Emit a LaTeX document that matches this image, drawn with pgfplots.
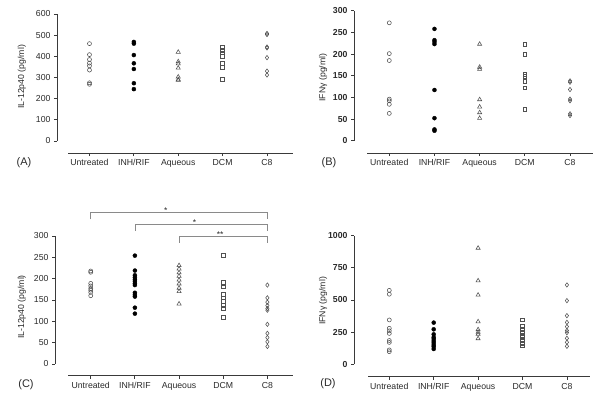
\documentclass[border=0pt]{standalone}
\usepackage{pgfplots}
\pgfplotsset{compat=1.18}
\usepackage{fontspec}
\setmainfont{Liberation Sans}
\definecolor{ax}{HTML}{3A3A3A}
\definecolor{mk}{HTML}{505050}
\definecolor{br}{HTML}{8A8A8A}
\definecolor{tx}{HTML}{2A2A2A}
\pgfplotsset{
  prism/.style={
    scale only axis,
    anchor=south west,
    separate axis lines,
    axis line style={draw=none},
    clip=false,
    xtick={0,1,2,3,4},
    xticklabels={Untreated,INH/RIF,Aqueous,DCM,C8},
    tick align=outside,
    xtick pos=left, ytick pos=left,
    major tick length=3pt,
    minor tick num=0,
    tick style={ax, line width=0.8pt},
    ticklabel style={font=\fontsize{8.7}{10}\selectfont, text=tx},
    /pgf/number format/assume math mode=true,
    /pgf/number format/1000 sep={},
    every axis plot/.append style={only marks, mark options={line width=0.55pt}},
  },
  untr/.style={mark=o, mk, mark size=2pt},
  inh/.style={mark=*, black, mark size=2pt, mark options={fill=black}},
  aq/.style={mark=triangle, mk, mark size=2.4pt},
  dcm/.style={mark=square, mk, mark size=1.85pt},
  ceight/.style={mark=diamond, mk, mark size=2.2pt},
}
\begin{document}
\begin{tikzpicture}
\useasboundingbox (0pt,0pt) rectangle (600pt,400pt);
% ---------------- Panel A ----------------
\begin{axis}[prism, at={(57pt,247pt)}, width=236pt, height=139pt,
  xmin=-0.732, xmax=4.586, ymin=-56.7, ymax=600,
  ytick={0,100,...,600}]
\draw[ax, line width=0.8pt] (axis cs:-0.732,0) -- (axis cs:-0.732,600);
\draw[ax, line width=0.8pt] (axis cs:-0.484,-56.7) -- (axis cs:4.586,-56.7);
\addplot[untr] coordinates {(0,460) (0,408) (0,385) (0,368) (0,355) (0,335) (0,275) (0,268)};
\addplot[inh] coordinates {(1,468) (1,460) (1,406) (1,367) (1,340) (1,273) (1,245)};
\addplot[aq] coordinates {(2,420) (2,375) (2,365) (2,345) (2,303) (2,290) (2,287)};
\addplot[dcm] coordinates {(3,442) (3,428) (3,417) (3,400) (3,366) (3,347) (3,291)};
\addplot[ceight] coordinates {(4,508) (4,503) (4,444) (4,440) (4,394) (4,330) (4,312)};
\end{axis}
% ---------------- Panel B ----------------
\begin{axis}[prism, at={(354pt,247pt)}, width=239pt, height=142.3pt,
  xmin=-0.781, xmax=4.509, ymin=-28.4, ymax=300,
  ytick={0,50,...,300},
  yticklabel style={font=\bfseries\fontsize{8.7}{10}\selectfont}]
\draw[ax, line width=0.8pt] (axis cs:-0.781,0) -- (axis cs:-0.781,300);
\draw[ax, line width=0.8pt] (axis cs:-0.49,-28.4) -- (axis cs:4.509,-28.4);
\addplot[untr] coordinates {(0,272) (0,201) (0,185) (0,96) (0,92) (0,84) (0,63)};
\addplot[inh] coordinates {(1,258) (1,232) (1,228) (1,223) (1,117) (1,52) (1,26) (1,23)};
\addplot[aq] coordinates {(2,223) (2,170) (2,165) (2,95) (2,78) (2,65) (2,52)};
\addplot[dcm] coordinates {(3,223) (3,199) (3,153) (3,148) (3,137) (3,122) (3,73)};
\addplot[ceight] coordinates {(4,138) (4,135) (4,118) (4,96) (4,92) (4,62) (4,58)};
\end{axis}
% ---------------- Panel C ----------------
\begin{axis}[prism, at={(55pt,24.5pt)}, width=238pt, height=139.5pt,
  xmin=-0.809, xmax=4.58, ymin=-27, ymax=300,
  ytick={0,50,...,300}]
\draw[ax, line width=0.8pt] (axis cs:-0.809,0) -- (axis cs:-0.809,300);
\draw[ax, line width=0.8pt] (axis cs:-0.51,-27) -- (axis cs:4.58,-27);
\draw[br, line width=0.6pt] (axis cs:0,339) -- (axis cs:0,354.6) -- (axis cs:4,354.6) -- (axis cs:4,339);
\draw[br, line width=0.6pt] (axis cs:1,312) -- (axis cs:1,327) -- (axis cs:4,327) -- (axis cs:4,312);
\draw[br, line width=0.6pt] (axis cs:2,284) -- (axis cs:2,300) -- (axis cs:4,300) -- (axis cs:4,284);
\node[anchor=south, inner sep=0.5pt, font=\fontsize{8.5}{9}\selectfont, text=tx] at (axis cs:1.7,351) {*};
\node[anchor=south, inner sep=0.5pt, font=\fontsize{8.5}{9}\selectfont, text=tx] at (axis cs:2.35,323) {*};
\node[anchor=south, inner sep=0.5pt, font=\fontsize{8.5}{9}\selectfont, text=tx] at (axis cs:2.93,296) {**};
\addplot[untr] coordinates {(0,218) (0,215) (0,189) (0,183) (0,177) (0,173) (0,168) (0,160)};
\addplot[inh] coordinates {(1,254) (1,219) (1,208) (1,203) (1,198) (1,194) (1,189) (1,185) (1,167) (1,162) (1,158) (1,132) (1,118)};
\addplot[aq] coordinates {(2,231) (2,223) (2,214) (2,206) (2,197) (2,188) (2,178) (2,170) (2,141)};
\addplot[dcm] coordinates {(3,255) (3,191) (3,181) (3,163) (3,155) (3,147) (3,138) (3,131) (3,109)};
\addplot[ceight] coordinates {(4,185) (4,155) (4,145) (4,137) (4,130) (4,126) (4,93) (4,72) (4,62) (4,52) (4,41)};
\end{axis}
% ---------------- Panel D ----------------
\begin{axis}[prism, at={(354pt,23.5pt)}, width=236pt, height=140.8pt,
  xmin=-0.795, xmax=4.52, ymin=-95, ymax=1000,
  ytick={0,250,500,750,1000},
  yticklabel style={font=\bfseries\fontsize{8.7}{10}\selectfont}]
\draw[ax, line width=0.8pt] (axis cs:-0.795,0) -- (axis cs:-0.795,1000);
\draw[ax, line width=0.8pt] (axis cs:-0.47,-95) -- (axis cs:4.52,-95);
\addplot[untr] coordinates {(0,575) (0,545) (0,345) (0,280) (0,260) (0,240) (0,185) (0,170) (0,112) (0,98)};
\addplot[inh] coordinates {(1,324) (1,272) (1,233) (1,210) (1,197) (1,181) (1,166) (1,150) (1,137) (1,119)};
\addplot[aq] coordinates {(2,904) (2,650) (2,539) (2,332) (2,270) (2,250) (2,235) (2,200)};
\addplot[dcm] coordinates {(3,347) (3,298) (3,272) (3,249) (3,228) (3,212) (3,187) (3,163) (3,145)};
\addplot[ceight] coordinates {(4,617) (4,495) (4,378) (4,326) (4,293) (4,262) (4,246) (4,202) (4,171) (4,140)};
\end{axis}
% ---------------- labels ----------------
\node[rotate=90, font=\fontsize{8.7}{10}\selectfont, text=tx] at (22pt,323pt) {IL-12p40 (pg/ml)};
\node[rotate=90, font=\fontsize{8.7}{10}\selectfont, text=tx] at (323pt,322.5pt) {IFNγ (pg/ml)};
\node[rotate=90, font=\fontsize{8.7}{10}\selectfont, text=tx] at (22pt,93pt) {IL-12p40 (pg/ml)};
\node[rotate=90, font=\fontsize{8.7}{10}\selectfont, text=tx] at (323pt,99pt) {IFNγ (pg/ml)};
\node[font=\fontsize{11}{12}\selectfont, text=tx] at (24pt,237pt) {(A)};
\node[font=\fontsize{11}{12}\selectfont, text=tx] at (329pt,237pt) {(B)};
\node[font=\fontsize{11}{12}\selectfont, text=tx] at (26pt,15pt) {(C)};
\node[font=\fontsize{11}{12}\selectfont, text=tx] at (328pt,16pt) {(D)};
\end{tikzpicture}
\end{document}
